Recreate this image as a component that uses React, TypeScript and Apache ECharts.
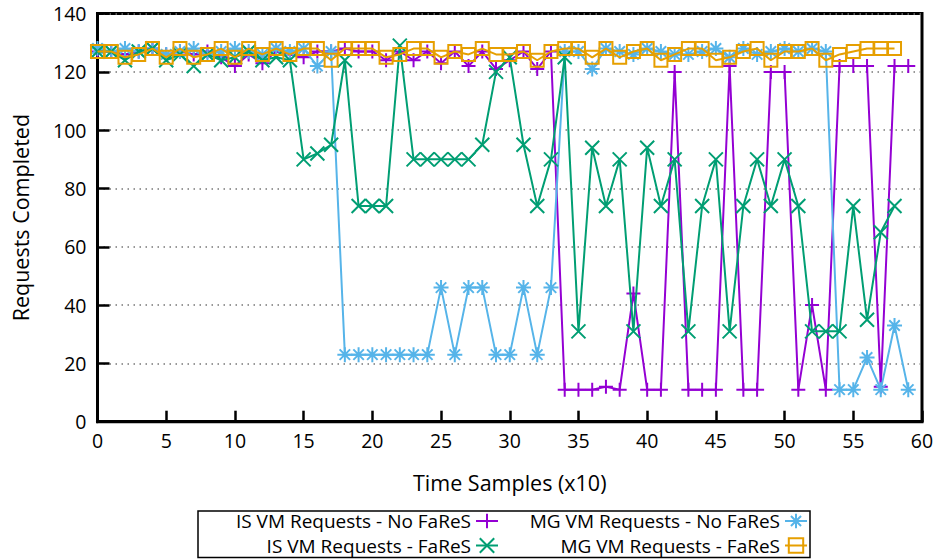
import React, { useEffect, useRef } from "react";
import * as echarts from "echarts";

// Sample index (x10) is the position in each array
const isNoFares = [
  127, 127, 126, 127, 128, 126, 127, 126, 127, 125, 122, 126, 123, 127, 126, 125, 127,
  127, 128, 127, 127, 124, 127, 124, 127, 123, 127, 122, 127, 121, 124, 127, 121, 127,
  11, 11, 11, 12, 11, 44, 11, 11, 120, 11, 11, 11, 122, 11, 11, 120, 120, 11, 40, 11,
  122, 122, 122, 12, 122, 122,
];
const mgNoFares = [
  128, 127, 128, 127, 128, 126, 127, 128, 126, 127, 128, 127, 126, 128, 127, 128, 122,
  127, 23, 23, 23, 23, 23, 23, 23, 46, 23, 46, 46, 23, 23, 46, 23, 46, 127, 127, 121,
  128, 127, 126, 128, 127, 126, 126, 127, 128, 125, 128, 126, 127, 128, 127, 128, 127,
  11, 11, 22, 11, 33, 11,
];
const isFares = [
  127, 127, 124, 127, 128, 124, 126, 122, 126, 124, 125, 127, 124, 125, 124, 90, 92,
  95, 124, 74, 74, 74, 129, 90, 90, 90, 90, 90, 95, 120, 125, 95, 74, 90, 125, 31, 94,
  74, 90, 31, 94, 74, 90, 31, 74, 90, 31, 74, 90, 74, 90, 74, 31, 31, 31, 74, 35, 65, 74,
];
const mgFares = [
  127, 127, 125, 126, 128, 125, 128, 125, 126, 128, 125, 128, 126, 128, 126, 128, 128,
  124, 128, 128, 128, 125, 126, 128, 128, 125, 127, 126, 128, 126, 126, 127, 124, 127,
  128, 128, 125, 128, 125, 127, 128, 124, 126, 128, 128, 124, 125, 127, 128, 124, 127,
  127, 128, 124, 126, 127, 128, 128, 128,
];

const seriesNames = [
  "IS VM Requests - No FaReS",
  "MG VM Requests - No FaReS",
  "IS VM Requests - FaReS",
  "MG VM Requests - FaReS",
];
const xTicks = { min: 0, max: 60, interval: 5 };
const yTicks = { min: 0, max: 140, interval: 20 };

const PLUS = "path://M0,5L10,5M5,0L5,10";
const CROSS = "path://M0,0L10,10M10,0L0,10";
const STAR = "path://M0,5L10,5M5,0L5,10M1.5,1.5L8.5,8.5M8.5,1.5L1.5,8.5";
const SQUARE = "path://M0,0L10,0L10,10L0,10Z";

const COLORS = ["#9400D3", "#56B4E9", "#009E73", "#E69F00"];
const FONT = "Open Sans";

export default function App() {
  const ref = useRef<HTMLDivElement>(null);
  useEffect(() => {
    if (!ref.current) return;
    const chart = echarts.init(ref.current, undefined, { renderer: "svg" });
    const datasets = [isNoFares, mgNoFares, isFares, mgFares];
    const symbols = [PLUS, STAR, CROSS, SQUARE];
    const sizes = [14, 15, 14, 13];
    const series = datasets.map((vals, k) => ({
      name: seriesNames[k],
      type: "line",
      data: vals.map((v, i) => [i, v]),
      symbol: symbols[k],
      symbolSize: sizes[k],
      showAllSymbol: true,
      lineStyle: { color: COLORS[k], width: 2 },
      itemStyle: {
        color: k === 3 ? "rgba(0,0,0,0)" : COLORS[k],
        borderColor: COLORS[k],
        borderWidth: 2,
      },
      z: 2 + k,
    }));
    const legendPos = [
      { right: 443, top: 511 },
      { right: 134, top: 511 },
      { right: 443, top: 535.5 },
      { right: 134, top: 535.5 },
    ];
    const legends = seriesNames.map((n, k) => ({
      data: [n],
      ...legendPos[k],
      align: "right",
      padding: 0,
      itemWidth: 22,
      itemHeight: 18,
      selectedMode: false,
      textStyle: { fontFamily: FONT, fontSize: 19, lineHeight: 20, color: "#000" },
      itemStyle: {
        color: k === 3 ? "rgba(0,0,0,0)" : COLORS[k],
        borderColor: COLORS[k],
        borderWidth: 2,
      },
      lineStyle: { color: COLORS[k], width: 2 },
    }));
    chart.setOption({
      animation: false,
      backgroundColor: "#fff",
      grid: {
        left: 97.5,
        right: 20,
        top: 13.6,
        bottom: 137.3,
        show: true,
        borderColor: "#000",
        borderWidth: 3,
      },
      xAxis: {
        type: "value",
        ...xTicks,
        name: "Time Samples (x10)",
        nameLocation: "middle",
        nameGap: 50,
        nameTextStyle: { fontFamily: FONT, fontSize: 21.5, color: "#000" },
        axisLine: { show: true, lineStyle: { color: "#000", width: 3 } },
        axisTick: { show: true, inside: true, length: 11, lineStyle: { color: "#000", width: 2.5 } },
        axisLabel: { fontFamily: FONT, fontSize: 19.5, color: "#000", margin: 9 },
        splitLine: { show: false },
      },
      yAxis: {
        type: "value",
        ...yTicks,
        name: "Requests Completed",
        nameLocation: "middle",
        nameGap: 66,
        nameRotate: 90,
        nameTextStyle: { fontFamily: FONT, fontSize: 21.5, color: "#000" },
        axisLine: { show: true, lineStyle: { color: "#000", width: 3 } },
        axisTick: { show: true, inside: true, length: 12, lineStyle: { color: "#000", width: 2.5 } },
        axisLabel: { fontFamily: FONT, fontSize: 19.5, color: "#000", margin: 11 },
        splitLine: { show: true, lineStyle: { color: "#777", width: 1.5, type: [1.5, 4.5] } },
      },
      legend: legends,
      graphic: [
        {
          type: "rect",
          shape: { x: 198, y: 511, width: 612, height: 46.5 },
          style: { fill: "none", stroke: "#000", lineWidth: 1.5 },
          silent: true,
        },
      ],
      series,
    });
    return () => chart.dispose();
  }, []);
  return (
    <div
      ref={ref}
      style={{ position: "fixed", left: 0, top: 0, width: 942, height: 559 }}
    />
  );
}
